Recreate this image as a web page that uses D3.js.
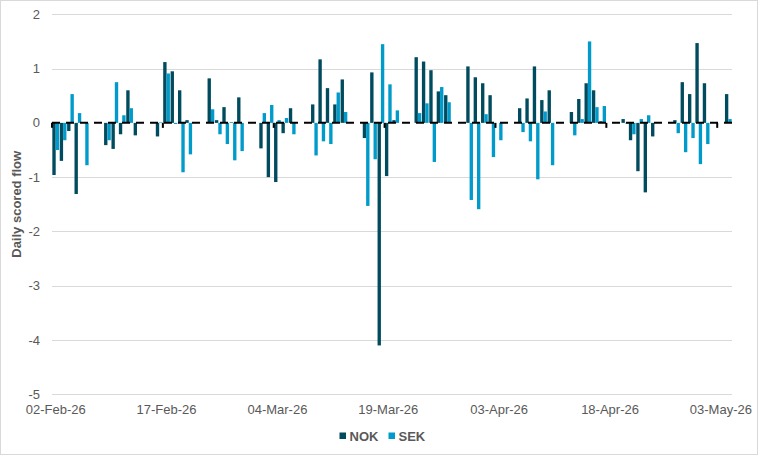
<!DOCTYPE html>
<html>
<head>
<meta charset="utf-8">
<script src="https://cdn.jsdelivr.net/npm/d3@7"></script>
<style>
  html, body { margin: 0; padding: 0; background: #fff; }
  #chart { width: 760px; height: 456px; }
  text { font-family: "Liberation Sans", Arial, sans-serif; fill: #595959; }
</style>
</head>
<body>
<div id="chart"></div>
<script>
// ── Data ──────────────────────────────────────────────────────────────────────
const series = ['NOK', 'SEK'];

const dates = [
  '2026-02-02', '2026-02-03', '2026-02-04', '2026-02-05', '2026-02-06',
  '2026-02-09', '2026-02-10', '2026-02-11', '2026-02-12', '2026-02-13',
  '2026-02-16', '2026-02-17', '2026-02-18', '2026-02-19', '2026-02-20',
  '2026-02-23', '2026-02-24', '2026-02-25', '2026-02-26', '2026-02-27',
  '2026-03-02', '2026-03-03', '2026-03-04', '2026-03-05', '2026-03-06',
  '2026-03-09', '2026-03-10', '2026-03-11', '2026-03-12', '2026-03-13',
  '2026-03-16', '2026-03-17', '2026-03-18', '2026-03-19', '2026-03-20',
  '2026-03-23', '2026-03-24', '2026-03-25', '2026-03-26', '2026-03-27',
  '2026-03-30', '2026-03-31', '2026-04-01', '2026-04-02', '2026-04-03',
  '2026-04-06', '2026-04-07', '2026-04-08', '2026-04-09', '2026-04-10',
  '2026-04-13', '2026-04-14', '2026-04-15', '2026-04-16', '2026-04-17',
  '2026-04-20', '2026-04-21', '2026-04-22', '2026-04-23', '2026-04-24',
  '2026-04-27', '2026-04-28', '2026-04-29', '2026-04-30', '2026-05-01',
  '2026-05-04'
];

const nokFlow = [
  -0.96, -0.70, -0.15, -1.31, 0.00,
  -0.41, -0.48, -0.21, 0.60, -0.23,
  -0.25, 1.12, 0.95, 0.60, 0.05,
  0.82, 0.05, 0.29, 0.01, 0.47,
  -0.47, -1.00, -1.09, -0.19, 0.27,
  0.34, 1.17, 0.64, 0.34, 0.80,
  -0.28, 0.93, -4.10, -0.98, 0.05,
  1.21, 1.13, 0.97, 0.58, 0.51,
  1.04, 0.84, 0.73, 0.51, 0.00,
  0.27, 0.45, 1.04, 0.42, 0.60,
  0.20, 0.44, 0.73, 0.60, 0.03,
  0.07, -0.32, -0.89, -1.28, -0.25,
  0.05, 0.75, 0.53, 1.47, 0.73,
  0.53
];

const sekFlow = [
  -0.50, -0.32, 0.53, 0.18, -0.78,
  -0.32, 0.75, 0.14, 0.27, 0.00,
  0.01, 0.91, -0.02, -0.91, -0.58,
  0.25, -0.21, -0.39, -0.69, -0.52,
  0.18, 0.33, 0.05, 0.09, -0.21,
  -0.60, -0.34, -0.39, 0.56, 0.20,
  -1.53, -0.67, 1.45, 0.71, 0.23,
  0.18, 0.36, -0.72, 0.66, 0.38,
  -1.42, -1.59, 0.16, -0.63, -0.32,
  -0.17, -0.34, -1.04, 0.21, -0.78,
  -0.23, 0.07, 1.50, 0.29, 0.31,
  -0.01, -0.21, 0.07, 0.14, 0.00,
  -0.19, -0.54, -0.28, -0.76, -0.39,
  0.07
];

const tickDates = ['2026-02-02', '2026-02-17', '2026-03-04', '2026-03-19', '2026-04-03', '2026-04-18', '2026-05-03'];
const yTicks = [2, 1, 0, -1, -2, -3, -4, -5];
const colors = { NOK: '#004b5e', SEK: '#009bcb' };

// ── SVG setup ─────────────────────────────────────────────────────────────────
const W = 760, H = 456;
const plot = { left: 52, right: 732, top: 14.3, bottom: 394.3 };

const svg = d3.select('#chart')
  .append('svg')
  .attr('width', W)
  .attr('height', H);

// chart frame
svg.append('rect')
  .attr('x', 0.5).attr('y', 0.5)
  .attr('width', 757).attr('height', 454)
  .attr('fill', '#fff')
  .attr('stroke', '#d9d9d9');

// ── Scales ────────────────────────────────────────────────────────────────────
const parse = d3.utcParse('%Y-%m-%d');
const day = 864e5;

const x = d3.scaleUtc()
  .domain([parse('2026-02-02'), parse('2026-05-05')])
  .range([plot.left, plot.right]);

const slotW = x(new Date(+parse('2026-02-02') + day)) - x(parse('2026-02-02'));

const xSeries = d3.scaleBand()
  .domain(series)
  .range([0, slotW])
  .paddingInner(0)
  .paddingOuter(0.1);

const y = d3.scaleLinear()
  .domain([-5, 2])
  .range([plot.bottom, plot.top]);

// ── Grid ──────────────────────────────────────────────────────────────────────
svg.append('g')
  .selectAll('line')
  .data(yTicks.filter(v => v !== 0))
  .join('line')
  .attr('x1', plot.left).attr('x2', plot.right)
  .attr('y1', d => Math.round(y(d)) + 0.5)
  .attr('y2', d => Math.round(y(d)) + 0.5)
  .attr('stroke', '#d9d9d9')
  .attr('stroke-width', 1);

// y labels
svg.append('g')
  .selectAll('text')
  .data(yTicks)
  .join('text')
  .attr('x', 40)
  .attr('y', d => y(d))
  .attr('dy', '0.35em')
  .attr('text-anchor', 'end')
  .attr('font-size', '13px')
  .text(d => d);

// ── Bars ──────────────────────────────────────────────────────────────────────
const rows = dates.map((d, i) => ({ date: parse(d), NOK: nokFlow[i], SEK: sekFlow[i] }));

svg.append('g')
  .selectAll('g')
  .data(rows)
  .join('g')
  .attr('transform', d => `translate(${x(d.date)},0)`)
  .selectAll('rect')
  .data(d => series.map(s => ({ key: s, value: d[s] })))
  .join('rect')
  .attr('x', d => xSeries(d.key))
  .attr('width', xSeries.bandwidth())
  .attr('y', d => y(Math.max(0, d.value)))
  .attr('height', d => Math.abs(y(d.value) - y(0)))
  .attr('fill', d => colors[d.key]);

// ── Zero axis (dashed) + ticks ────────────────────────────────────────────────
svg.append('line')
  .attr('x1', plot.left).attr('x2', plot.right)
  .attr('y1', y(0)).attr('y2', y(0))
  .attr('stroke', '#000')
  .attr('stroke-width', 2)
  .attr('stroke-dasharray', '8,6');

svg.append('g')
  .selectAll('line')
  .data(tickDates.map(parse))
  .join('line')
  .attr('x1', d => x(d)).attr('x2', d => x(d))
  .attr('y1', y(0)).attr('y2', y(0) + 5)
  .attr('stroke', '#000')
  .attr('stroke-width', 2);

// x labels centred on the date slot
svg.append('g')
  .selectAll('text')
  .data(tickDates.map(parse))
  .join('text')
  .attr('x', d => x(d) + slotW / 2)
  .attr('y', 414)
  .attr('text-anchor', 'middle')
  .attr('font-size', '13px')
  .text(d => d3.utcFormat('%d-%b-%y')(d));

// ── Axis title ────────────────────────────────────────────────────────────────
svg.append('text')
  .attr('transform', `translate(21,${(plot.top + plot.bottom) / 2}) rotate(-90)`)
  .attr('text-anchor', 'middle')
  .attr('font-size', '13px')
  .attr('font-weight', 'bold')
  .text('Daily scored flow');

// ── Legend ────────────────────────────────────────────────────────────────────
const legendX = [339.5, 388.5];
const legend = svg.append('g')
  .selectAll('g')
  .data(series)
  .join('g')
  .attr('transform', (d, i) => `translate(${legendX[i]},432.5)`);

legend.append('rect')
  .attr('width', 6.5).attr('height', 6.5)
  .attr('fill', d => colors[d]);

legend.append('text')
  .attr('x', 10)
  .attr('y', 3.5)
  .attr('dy', '0.35em')
  .attr('font-size', '13px')
  .attr('font-weight', 'bold')
  .text(d => d);
</script>
</body>
</html>
